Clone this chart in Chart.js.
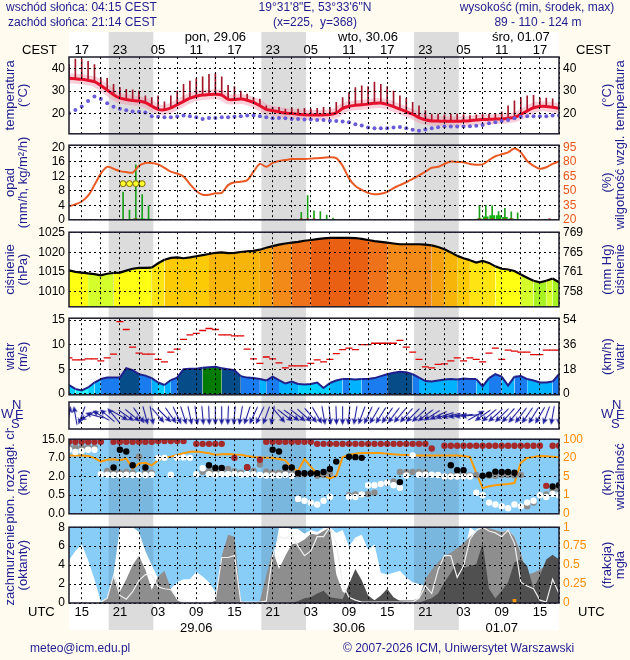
<!DOCTYPE html>
<html lang="pl">
<head>
<meta charset="UTF-8">
<title>Meteogram ICM</title>
<script src="https://cdn.jsdelivr.net/npm/chart.js@4.4.1/dist/chart.umd.min.js"></script>
<style>
  body { margin: 0; background: #fffbef; }
  #page { position: relative; width: 630px; height: 660px; overflow: hidden; font-family: "Liberation Sans", Arial, sans-serif; }
  canvas { position: absolute; left: 0; }
  .t { position: absolute; white-space: nowrap; font-size: 12px; line-height: 14px; color: #1d1d8f; }
  .c { transform: translateX(-50%); }
  .k { color: #000; font-size: 13px; }
  .cp { font-size: 13px; }
</style>
</head>
<body>
<div id="page">
  <canvas id="bg" width="630" height="660" style="top:0"></canvas>
  <canvas id="cTemp" width="630" height="123" style="top:22px"></canvas>
  <canvas id="cRain" width="630" height="97" style="top:134px"></canvas>
  <canvas id="cPress" width="630" height="97" style="top:221px"></canvas>
  <canvas id="cWind" width="630" height="99" style="top:307px"></canvas>
  <canvas id="cDir" width="630" height="49" style="top:391px"></canvas>
  <canvas id="cBase" width="630" height="97" style="top:428px"></canvas>
  <canvas id="cCover" width="630" height="117" style="top:516px"></canvas>

  <div class="t" style="left:6px;top:0">wschód słońca: 04:15 CEST</div>
  <div class="t" style="left:8px;top:15px">zachód słońca: 21:14 CEST</div>
  <div class="t c" style="left:315px;top:0">19°31'8"E, 53°33'6"N</div>
  <div class="t c" style="left:315px;top:15px">(x=225,&nbsp; y=368)</div>
  <div class="t c" style="left:537px;top:0">wysokość (min, środek, max)</div>
  <div class="t c" style="left:538px;top:15px">89 - 110 - 124 m</div>

  <div class="t k" style="left:22px;top:43px">CEST</div>
  <div class="t k" style="left:576px;top:43px">CEST</div>
  <div class="t k" style="left:28px;top:605px">UTC</div>
  <div class="t k" style="left:578px;top:605px">UTC</div>

  <div class="t cp" style="left:1px;top:407px">W</div>
  <div class="t cp" style="left:12px;top:398px">N</div>
  <div class="t cp" style="left:15px;top:408px">E</div>
  <div class="t cp" style="left:11px;top:417px">S</div>
  <div class="t cp" style="left:601px;top:407px">W</div>
  <div class="t cp" style="left:612px;top:398px">N</div>
  <div class="t cp" style="left:616px;top:408px">E</div>
  <div class="t cp" style="left:611px;top:417px">S</div>

  <div class="t" style="left:30px;top:641px">meteo@icm.edu.pl</div>
  <div class="t" style="left:343px;top:641px">© 2007-2026 ICM, Uniwersytet Warszawski</div>
</div>

<script>
// time axis: hours UTC counted from 28.06 00 UTC
const X_MIN = 13, X_MAX = 90;
const hrs = Array.from({ length: 78 }, (_, i) => X_MIN + i);
const gridHours = Array.from({ length: 26 }, (_, i) => 15 + 3 * i);
const labelHours = [15, 21, 27, 33, 39, 45, 51, 57, 63, 69, 75, 81, 87];
const cestLabels = ['17', '23', '05', '11', '17', '23', '05', '11', '17', '23', '05', '11', '17'];
const utcLabels = ['15', '21', '03', '09', '15', '21', '03', '09', '15', '21', '03', '09', '15'];
const dayHours = [36, 60, 84];
const dayLabels = ['pon, 29.06', 'wto, 30.06', 'śro, 01.07'];
const dateHours = [33, 57, 81];
const dateLabels = ['29.06', '30.06', '01.07'];

// sunset 21:14 CEST, sunrise 04:15 CEST (in UTC hours)
const nightStart = [19.23, 43.23, 67.23];
const nightEnd = [26.25, 50.25, 74.25];

// temperature (°C)
const tempVals = [35.7, 35.5, 35.3, 34.8, 34.2, 32.5, 30.5, 28.3, 26.8, 26.2, 25.8, 25.5,
  24.8, 23.3, 21.8, 21.6, 22.4, 23.9, 25.4, 26.8, 27.7, 28.2, 28.4, 28.6,
  28.2, 26.3, 26.2, 26.4, 25.9, 24.9, 23.4, 21.8, 21.2, 20.6, 20.1, 19.9,
  19.6, 19.4, 19.3, 19.3, 19.3, 19.5, 20.2, 22.2, 23.2, 23.6, 23.8, 24.2,
  24.5, 24.6, 24.0, 23.0, 21.9, 20.8, 19.6, 18.1, 17.1, 16.6, 16.5, 16.4,
  16.4, 16.4, 16.5, 16.7, 17.0, 17.2, 17.3, 17.4, 17.5, 17.8, 18.2, 19.5,
  21.1, 22.5, 23.1, 23.1, 22.7, 22.2];
const tempMax = [42, 44.4, 44.4, 43.4, 41.9, 36, 35.7, 33, 31.6, 30.8, 30.5, 30,
  27.9, 27.1, 27.9, 25.2, 27.9, 30, 33, 34.5, 35.6, 36.4, 37.5, 37.9,
  36.4, 32.6, 32, 30, 28.6, 27.1, 26.4, 23.4, 22.7, 22.7, 21.9, 22.5,
  21.9, 22.2, 21.9, 22.2, 22.7, 22.7, 24.9, 27.1, 29.3, 31.6, 32.3, 32,
  34, 33, 32, 30, 27.9, 26.7, 24.9, 23.4, 21.2, 19.7, 19.7, 19.3,
  19.7, 19.7, 19.4, 19, 19.3, 19.7, 19.7, 20, 20.7, 23.4, 25.6, 27.1,
  27.9, 28.1, 26.8, 26.8, 26.5, 25];
const dewVals = [20.0, 21.5, 23.1, 25.5, 27.5, 26.4, 24.5, 23.0, 22.0, 21.4, 20.8, 20.7,
  20.4, 18.7, 18.5, 18.2, 18.2, 18.6, 19.0, 18.7, 18.2, 17.5, 17.9, 17.9,
  18.2, 18.2, 18.5, 18.7, 19.0, 19.0, 18.7, 18.2, 17.8, 17.9, 17.8, 17.5,
  17.5, 17.2, 17.2, 17.0, 17.0, 16.7, 16.5, 16.3, 16.0, 15.1, 14.5, 13.6,
  13.3, 13.3, 13.3, 13.6, 13.9, 13.3, 12.6, 12.2, 12.7, 13.3, 13.7, 14.1,
  14.1, 14.1, 14.1, 14.2, 14.4, 14.8, 15.5, 16.0, 16.5, 17.0, 17.8, 18.5,
  18.7, 18.7, 18.7, 18.7, 19.0, 19.0];

// precipitation (mm/h) and relative humidity (%)
const rhVals = [34, 36, 39, 45, 56, 68, 75, 73, 70.5, 69.5, 69, 76,
  79, 79, 77.5, 74, 70, 68, 65, 57, 50, 46, 46, 47.5,
  48, 56, 59, 59.5, 61, 70, 78, 75, 79, 81, 82, 83,
  83.2, 83.2, 83.5, 84, 84.5, 85, 84, 76, 63, 55, 51, 48,
  46.5, 47, 49, 53, 56, 59, 62.5, 66, 70, 74, 75, 78,
  80.5, 80, 79.8, 78, 77.2, 77.5, 82, 86, 88, 90, 94, 90,
  81, 76, 73, 74.5, 78, 80.5];
const rainHours = [21.5, 22.5, 23.5, 24.5, 25.5, 49.5, 50.5, 51.5, 52.5, 53.5, 54.5, 77.5, 78.5, 79.5, 80.5, 81.5, 82.5, 83.5];
const rainMax = [7.7, 2.7, 15.2, 7.0, 3.9, 2.1, 6.7, 2.5, 2.3, 1.3, 0.5, 4.0, 4.0, 3.9, 2.3, 3.2, 2.2, 1.9];
const rainMean = [0, 0, 0.3, 0.3, 0.2, 0, 0, 0, 0, 0, 0, 0.3, 0.8, 1.2, 1.2, 0.7, 0.3, 0];
const stormHours = [21.5, 22.5, 23.5, 24.5];
const redDotHours = [23.5, 49.5, 50.5, 51.5, 77.5, 78.5, 79.5, 81.5, 82.5, 88.5];

// pressure (hPa)
const pressVals = [1015.4, 1015.0, 1014.8, 1014.6, 1014.4, 1014.1, 1014.5, 1014.7, 1014.8, 1015.3, 1015.8, 1016.0,
  1016.0, 1016.1, 1017.2, 1018.1, 1018.6, 1018.7, 1018.5, 1018.7, 1019.0, 1019.3, 1019.6, 1019.9,
  1020.0, 1019.8, 1019.9, 1020.1, 1020.3, 1020.4, 1020.7, 1021.2, 1021.6, 1022.0, 1022.3, 1022.5,
  1022.7, 1023.0, 1023.2, 1023.4, 1023.6, 1023.75, 1023.75, 1023.75, 1023.75, 1023.7, 1023.5, 1023.2,
  1022.9, 1022.7, 1022.5, 1022.3, 1022.1, 1022.1, 1022.1, 1022.1, 1022.0, 1021.8, 1021.4, 1020.8,
  1020.0, 1019.1, 1018.5, 1018.0, 1017.4, 1017.8, 1017.3, 1016.4, 1015.8, 1015.6, 1015.2, 1014.3,
  1013.5, 1012.7, 1012.3, 1012.7, 1013.3, 1012.3];

// wind (m/s), gusts (m/s), direction (arrow heading, degrees)
const windVals = [1.8, 1.0, 0.7, 1.3, 2.3, 3.0, 3.3, 3.3, 3.3, 5.2, 4.8, 4.0,
  3.7, 3.2, 2.3, 1.8, 2.8, 3.3, 5.0, 5.1, 5.1, 5.3, 5.4, 5.5,
  5.2, 5.0, 4.8, 3.6, 3.3, 3.2, 3.0, 2.7, 3.5, 2.8, 2.1, 2.5,
  2.0, 1.9, 2.0, 2.3, 1.2, 2.2, 2.7, 3.0, 3.0, 2.9, 3.0, 3.0,
  3.2, 3.6, 4.0, 4.3, 4.5, 4.4, 4.0, 3.3, 2.6, 2.5, 2.7, 2.9,
  3.0, 2.9, 3.1, 3.0, 3.0, 1.5, 3.2, 4.0, 3.5, 1.7, 3.5, 3.6,
  3.0, 2.7, 2.3, 2.3, 2.5, 4.0];
const gustVals = [7.3, 6.9, 6.9, 7.1, 7.1, 6.7, 7.3, 8.1, 14.7, 13.1, 9.5, 8.3,
  8.1, 8.1, 7.0, 6.5, 8.5, 9.1, 11.1, 12.0, 12.3, 12.9, 13.3, 13.1,
  12.0, 12.0, 11.8, 11.8, 9.1, 7.1, 6.2, 7.5, 7.1, 6.3, 5.3, 5.7,
  5.7, 5.7, 6.2, 6.9, 6.5, 7.0, 8.2, 9.0, 9.3, 9.0, 10.0, 10.0,
  10.3, 10.3, 10.3, 10.3, 10.9, 9.5, 8.5, 7.0, 5.5, 5.3, 6.0, 6.1,
  6.7, 7.3, 6.7, 7.3, 7.0, 6.5, 8.3, 9.3, 7.0, 8.9, 8.7, 8.5,
  8.5, 8.0, 8.0, 8.9, 8.9, 8.9];
const windDir = [10, 350, 200, 240, 285, 300, 310, 320, 120, 125, 130, 145,
  165, 170, 140, 135, 145, 155, 162, 168, 172, 175, 178, 180,
  180, 182, 185, 190, 198, 205, 205, 200, 190, 140, 128, 125,
  128, 132, 140, 150, 170, 175, 178, 180, 185, 190, 200, 205,
  210, 212, 215, 217, 220, 222, 225, 228, 233, 238, 245, 252,
  257, 260, 263, 265, 60, 235, 230, 228, 225, 222, 220, 217,
  215, 212, 210, 200, 190, 180];

// cloud base / vertical extent (km) and visibility (km)
const baseTicks = [0, 0.5, 2, 7, 15];
const visTicks = [0, 1, 5, 20, 100];
const cbRed = [13.9, 13.9, 13.9, 13.9, 13.9, 13.9, null, 13.9, 13.9, 13.9, 13.9, 13.9,
  13.9, 13.9, 14.2, 14.2, 14.2, 14.2, 14.2, null, 13.0, 13.0, 13.0, 13.0,
  13.0, null, 7.0, null, 4.5, null, 6.5, 13.9, 13.9, 13.9, 13.9, 13.9,
  13.9, 13.9, 13.9, 13.0, 13.0, 13.0, 13.0, 13.0, 13.0, 13.0, 13.0, 13.0,
  13.0, 13.0, 13.0, 13.0, 13.0, 13.0, 13.0, 13.0, 13.0, 11.0, null, 12.2,
  12.2, 12.2, 12.2, 12.2, 12.2, 12.2, 12.2, 12.2, 12.2, 12.2, 12.2, 12.2,
  12.2, 12.2, 12.2, 1.25, 12.2, 12.2];
const cbBlack = [null, null, null, null, null, null, null, 4.4, 10.5, 9.7, 5.0, null,
  4.4, null, null, null, null, null, null, null, null, null, 5.0, 4.3,
  4.3, null, null, null, 4.4, null, null, null, 10.5, 9.7, 4.4, 4.4,
  2.9, 2.9, 2.9, 2.9, 3.2, 4.0, 6.0, null, 7.5, 7.3, 7.0, null,
  null, null, null, null, 1.55, null, null, null, null, null, null, null,
  5.0, 3.7, 3.7, null, null, 2.2, 2.5, 3.3, 3.2, 3.2, 3.0, null,
  null, null, null, null, 1.2, 1.3];
const cbGray = [11.5, 11.5, 11.5, 11.5, 11.5, null, 3.5, 3.5, 3.0, 3.2, 3.0, 7.6,
  3.2, 3.0, null, null, null, null, null, null, null, 3.3, 3.4, 3.2,
  3.4, 4.0, 3.4, 3.0, null, 3.5, 5.2, 3.3, 3.0, 3.0, 3.3, 3.4,
  2.6, 2.6, null, 2.2, 2.4, 2.8, null, null, 0.5, 0.55, 0.55, 0.6,
  0.7, 1.4, 1.5, 1.6, 3.2, 3.2, 3.2, 3.2, 3.1, null, null, 2.0,
  2.2, 2.4, 2.6, 2.3, 2.4, null, 2.2, 2.2, 2.4, 2.4, 2.3, 2.4,
  0.2, 0.3, 0.5, 0.56, 0.9, 1.0];
const cbWhite = [10.5, 9.5, 10.0, 10.5, 10.5, 2.6, 2.5, 2.4, 2.4, 2.5, 2.4, 2.4,
  2.4, 2.5, 7.0, 7.0, 2.5, 7.0, 7.2, 7.0, 2.6, 4.2, 2.6, 2.5,
  2.6, 2.6, 2.7, 2.5, 2.6, 2.6, 2.4, 2.3, 2.3, 2.3, 2.5, 2.2,
  0.4, 0.35, 0.3, 0.25, 0.35, 0.45, null, null, 0.45, 0.45, 0.55, 1.3,
  1.3, 1.4, 1.5, 1.3, 1.1, 2.3, 8.0, 2.5, 2.5, 2.5, 2.4, 2.0,
  2.0, 2.0, 2.0, 2.0, 0.7, 0.5, 0.3, 0.25, 0.2, 0.15, 0.25, 0.2,
  0.3, 0.35, 0.5, 0.45, 0.6, 0.5];
const visVals = [30, 30, 30, 28, 20, 17, 18.5, 18.8, 18, 19.4, 11.5, 15.5,
  16, 14, 18, 21, 25, 32, 40, 46, 47, 44, 40, 33,
  35, 36, 34, 33, 28, 24, 22, 20.5, 20, 19, 18, 12,
  9.5, 19, 13, 7, 5.5, 4.6, 5.5, 23, 33, 38, 41, 41,
  41, 41, 38, 35, 33, 32, 31, 30, 30, 30, 30, 30,
  30, 30, 28, 24, 8, 2.5, 2.9, 3.1, 3.3, 3.4, 3.6, 16,
  20, 24, 28, 27, 25, 23];

// cloud cover (octas) and fog fraction
const coverHigh = [4.5, 5.5, 6.2, 4.5, 2.5, 0.1, 0, 3.0, 8, 8, 8, 7.5,
  5.5, 4.0, 2.6, 1.3, 1.5, 2.2, 2.5, 2.5, 3.3, 2.8, 2.2, 1.2,
  0, 0, 0, 0, 0, 0, 0, 0, 4, 8, 8, 7.8,
  7.8, 7.3, 7.7, 7.5, 7.9, 8, 7.4, 7.7, 6.0, 6.9, 7.2, 5.6,
  6.2, 3.2, 3.0, 3.2, 3.4, 2.7, 2.2, 2.0, 1.8, 1.2, 0.5, 0,
  0, 0, 5, 8, 7.5, 8, 7.7, 7.7, 7.5, 7.7, 7.0, 5.3,
  3.0, 2.5, 1.8, 0.1, 0, 0];
const coverMid = [0, 0, 0, 0, 0, 0.1, 0.6, 3.0, 1.2, 2.5, 4.0, 5.0,
  3.5, 1.4, 2.8, 3.4, 1.5, 0.3, 0, 0, 0, 0, 0, 0.3,
  5.0, 7.2, 7.0, 0.2, 0, 0, 0.2, 2.9, 5.6, 3.6, 5.0, 6.2,
  6.3, 6.7, 7.3, 7.2, 7.6, 8, 3.0, 1.2, 0.8, 0.6, 0.5, 0.4,
  0.3, 0.3, 0.3, 0.3, 0.3, 0.3, 0.3, 0.5, 2.5, 3.5, 4.3, 5.0,
  5.3, 5.8, 6.3, 7.0, 7.5, 8, 7.9, 7.7, 7.5, 7.7, 7.0, 5.3,
  3.0, 3.2, 3.5, 4.0, 4.5, 4.8];
const coverLow = [0, 0, 0, 0, 0, 0, 0, 0, 0, 0, 0, 0,
  0, 0, 0, 0, 0, 0, 0, 0, 0, 0, 0, 0,
  0, 0, 0, 0, 0, 0, 0, 0, 0, 0, 0, 0,
  0.2, 0.5, 0.6, 1.0, 1.3, 0.6, 0.5, 0.4, 2.0, 3.6, 2.4, 0.8,
  0.3, 0.8, 1.5, 0.6, 0.2, 0.1, 0, 0, 0.3, 0.5, 1.0, 2.2,
  3.2, 4.3, 3.7, 3.9, 4.1, 6.3, 1.5, 0.5, 1.3, 2.2, 4.3, 4.6,
  3.9, 1.5, 2.9, 4.6, 5.1, 4.6];
const coverTotal = [0, 0, 0, 0, 0, 0.1, 0.5, 2.9, 0.8, 0.4, 1.2, 2.4,
  3.0, 3.0, 1.7, 1.5, 1.4, 0.5, 0.2, 0.1, 0.1, 0.1, 0.1, 0.3,
  4.8, 4.8, 5.0, 0.1, 0.1, 0.1, 0.1, 0.2, 5.0, 7.0, 6.8, 7.2,
  6.0, 5.0, 5.5, 7.0, 7.0, 8.0, 6.3, 2.0, 0.6, 0.3, 0.1, 0.1,
  0.1, 0.1, 0.1, 0.1, 0.1, 0.1, 0.1, 0.5, 1.8, 1.0, 3.5, 5.0,
  5.0, 2.7, 3.9, 6.7, 7.7, 8.0, 7.6, 7.4, 7.0, 7.7, 6.3, 2.2,
  1.8, 1.5, 0.3, 0.1, 2.5, 1.0];
const fogHours = [83];
const fogVals = [0.05];

// ---------------------------------------------------------------
const NAVY = '#1d1d8f';
const FONT = '"Liberation Sans", Arial, sans-serif';
Chart.defaults.font.family = FONT;
Chart.defaults.font.size = 12;
Chart.defaults.color = '#000';

const pts = (xs, ys) => xs.map((x, i) => ({ x: x, y: ys[i] }));

// piecewise position on the equally spaced ticks of the cloud panel
function toIdx(v, ticks) {
  if (v == null) return null;
  for (let i = 1; i < ticks.length; i++) {
    if (v <= ticks[i]) return i - 1 + (v - ticks[i - 1]) / (ticks[i] - ticks[i - 1]);
  }
  return ticks.length - 1;
}

function pressColor(p) {
  if (p < 1013) return '#a6f222';
  if (p < 1014.7) return '#d4ff2a';
  if (p < 1016.5) return '#ffff14';
  if (p < 1018) return '#ffe414';
  if (p < 1019.5) return '#fccb06';
  if (p < 1020.6) return '#f6b508';
  if (p < 1021.6) return '#f5a00e';
  if (p < 1022.6) return '#f28a1a';
  if (p < 1023.3) return '#ee721a';
  return '#ea6012';
}
function windColor(w) {
  if (w < 1.3) return '#28f4ff';
  if (w < 2.2) return '#00d2ff';
  if (w < 3.0) return '#00b2ff';
  if (w < 4.0) return '#1a7cee';
  if (w < 5.25) return '#064c88';
  return '#047c04';
}

// plugins ---------------------------------------------------------
const bands = {
  id: 'bands',
  beforeDraw(chart, args, o) {
    if (!o.band) return;
    const { ctx, chartArea: a } = chart;
    const x = chart.scales.x;
    ctx.save();
    if (o.fill) { ctx.fillStyle = o.fill; ctx.fillRect(a.left, a.top, a.width, a.height); }
    ctx.beginPath(); ctx.rect(a.left, a.top, a.width, a.height); ctx.clip();
    ctx.fillStyle = o.band;
    nightStart.forEach((s, i) => {
      const x0 = x.getPixelForValue(s), x1 = x.getPixelForValue(nightEnd[i]);
      ctx.fillRect(x0, a.top, x1 - x0, a.height);
    });
    ctx.restore();
  }
};
const frame = {
  id: 'frame',
  afterDraw(chart, args, o) {
    if (!o.color) return;
    const { ctx, chartArea: a } = chart;
    ctx.save();
    ctx.strokeStyle = o.color; ctx.lineWidth = 1.5;
    ctx.strokeRect(a.left, a.top, a.width, a.height);
    ctx.restore();
  }
};
const sideTitles = {
  id: 'sideTitles',
  afterDraw(chart, args, o) {
    if (!o.items) return;
    const { ctx, chartArea: a } = chart;
    ctx.save();
    ctx.font = '13px ' + FONT;
    ctx.fillStyle = NAVY;
    ctx.textBaseline = 'middle';
    o.items.forEach(t => {
      ctx.save();
      ctx.translate(t.x, (a.top + a.bottom) / 2 + (t.dy || 0));
      ctx.rotate(-Math.PI / 2);
      ctx.textAlign = t.align || 'center';
      ctx.fillText(t.text, 0, 0);
      ctx.restore();
    });
    ctx.restore();
  }
};
Chart.register(bands, frame, sideTitles);

// local time row and day names above the temperature panel
const topLabels = {
  id: 'topLabels',
  afterDraw(chart) {
    const { ctx, chartArea: a } = chart;
    const x = chart.scales.x;
    ctx.save();
    ctx.font = '13px ' + FONT;
    ctx.fillStyle = '#000';
    ctx.textAlign = 'center';
    ctx.textBaseline = 'middle';
    labelHours.forEach((h, i) => ctx.fillText(cestLabels[i], x.getPixelForValue(h), a.top - 7));
    dayHours.forEach((h, i) => ctx.fillText(dayLabels[i], x.getPixelForValue(h), a.top - 20));
    ctx.restore();
  }
};

// scale helpers ----------------------------------------------------
function xGrid() {
  return {
    type: 'linear', min: X_MIN, max: X_MAX, offset: false,
    grid: { color: '#000', lineWidth: 1, z: 1, drawTicks: false, offset: false },
    border: { display: false, dash: [2, 3] },
    ticks: { display: false },
    afterBuildTicks: s => { s.ticks = gridHours.map(v => ({ value: v })); },
    afterFit: s => { s.height = 0; }
  };
}
function yLeft(min, max, vals, fmt) {
  return {
    position: 'left', min: min, max: max,
    grid: { color: '#000', lineWidth: 1, z: 1, drawTicks: false },
    border: { display: false, dash: [2, 3] },
    ticks: { autoSkip: false, padding: 4, font: { size: 12 }, callback: fmt || (v => String(v)) },
    afterBuildTicks: s => { s.ticks = vals.map(v => ({ value: v })); },
    afterFit: s => { s.width = 69; }
  };
}
function yRight(min, max, vals, fmt, color) {
  return {
    position: 'right', min: min, max: max,
    grid: { display: false, drawTicks: false },
    border: { display: false },
    ticks: { autoSkip: false, padding: 4, font: { size: 12 }, color: color || '#000', callback: fmt || (v => String(v)) },
    afterBuildTicks: s => { s.ticks = vals.map(v => ({ value: v })); },
    afterFit: s => { s.width = 71; }
  };
}
function opts(scales, plugins, padding) {
  return {
    responsive: false, animation: false, events: [],
    layout: { padding: padding || { top: 10, bottom: 10, left: 0, right: 0 } },
    scales: scales,
    plugins: Object.assign({ legend: { display: false }, tooltip: { enabled: false } }, plugins)
  };
}
function titles(l1, l2, r1, r2, extra) {
  const items = [
    { text: l1, x: 10 }, { text: l2, x: 23 },
    { text: r1, x: 607 }, { text: r2, x: 620 }
  ];
  (extra || []).forEach((e, i) => Object.assign(items[i], e));
  return { items: items };
}

// background column with night bands
new Chart(document.getElementById('bg'), {
  type: 'line',
  data: { datasets: [] },
  options: opts({
    x: { type: 'linear', min: X_MIN, max: X_MAX, display: false },
    y: { display: false }
  }, { bands: { fill: '#ffffff', band: '#dcdcdc' } }, { left: 69, right: 71, top: 32, bottom: 30 })
});

// temperature
new Chart(document.getElementById('cTemp'), {
  type: 'line',
  data: {
    datasets: [
      { data: pts(hrs, dewVals), showLine: false, pointRadius: 2, pointBackgroundColor: '#6a5cd8', pointBorderWidth: 0, order: 0 },
      { data: pts(hrs, tempVals), borderColor: '#e4102c', borderWidth: 3, pointRadius: 0, tension: 0.3, order: 1 },
      { type: 'bar', data: hrs.map((h, i) => ({ x: h, y: [tempVals[i], tempMax[i]] })), backgroundColor: '#a3162a', barThickness: 1, order: 2 },
      { data: pts(hrs, tempVals), borderColor: 'rgba(240,150,172,0.45)', borderWidth: 10, pointRadius: 0, tension: 0.3, order: 3 }
    ]
  },
  options: opts({
    x: xGrid(),
    y: yLeft(10.8, 45.3, [20, 30, 40]),
    y2: yRight(10.8, 45.3, [20, 30, 40])
  }, {
    frame: { color: '#1c1c2c' },
    sideTitles: titles('temperatura', '(°C)', '(°C)', 'temperatura')
  }, { top: 35, bottom: 10, left: 0, right: 0 }),
  plugins: [topLabels]
});

// precipitation + humidity
const RAIN_MAX = 20.65;
new Chart(document.getElementById('cRain'), {
  type: 'line',
  data: {
    datasets: [
      { data: stormHours.map(h => ({ x: h, y: 10 })), showLine: false, pointRadius: 3, pointBackgroundColor: '#ffff30', pointBorderColor: '#7a6a00', pointBorderWidth: 1, order: 0 },
      { data: redDotHours.map(h => ({ x: h, y: 0 })), showLine: false, pointStyle: 'rect', pointRadius: 2, pointBackgroundColor: '#c81818', pointBorderWidth: 0, order: 0 },
      { yAxisID: 'y2', data: pts(hrs, rhVals), borderColor: '#ea5a24', borderWidth: 2, pointRadius: 0, tension: 0.3, order: 1 },
      { type: 'bar', data: pts(rainHours, rainMean), backgroundColor: '#14b414', barThickness: 5, grouped: false, order: 2 },
      { type: 'bar', data: pts(rainHours, rainMax), backgroundColor: '#1aa01a', barThickness: 1, grouped: false, order: 3 }
    ]
  },
  options: opts({
    x: xGrid(),
    y: yLeft(0, RAIN_MAX, [0, 4, 8, 12, 16, 20]),
    y2: yRight(20, 20 + RAIN_MAX * 3.75, [20, 35, 50, 65, 80, 95], null, '#e8561e')
  }, {
    frame: { color: '#1c1c2c' },
    sideTitles: titles('opad', '(mm/h, kg/m²/h)', '(%)', 'wilgotność wzgl.')
  })
});

// pressure
new Chart(document.getElementById('cPress'), {
  type: 'line',
  data: {
    datasets: [{
      data: pts(hrs, pressVals), borderColor: '#000', borderWidth: 2.2, pointRadius: 0, tension: 0,
      fill: 'start', backgroundColor: '#fccb06',
      segment: { backgroundColor: c => pressColor((c.p0.parsed.y + c.p1.parsed.y) / 2) }
    }]
  },
  options: opts({
    x: xGrid(),
    y: yLeft(1006, 1025.2, [1010, 1015, 1020, 1025]),
    y2: yRight(1006, 1025.2, [1010, 1015, 1020, 1025], v => String(Math.round(v * 0.750062)))
  }, {
    frame: { color: '#1c1c2c' },
    sideTitles: titles('ciśnienie', '(hPa)', '(mm Hg)', 'ciśnienie')
  })
});

// wind
new Chart(document.getElementById('cWind'), {
  type: 'line',
  data: {
    datasets: [
      { data: pts(hrs, gustVals), showLine: false, pointStyle: 'line', pointRadius: 3.5, pointBorderColor: '#e00000', pointBorderWidth: 1.3, order: 0 },
      {
        data: pts(hrs, windVals), borderColor: '#20208c', borderWidth: 2, pointRadius: 0, tension: 0,
        fill: 'start', backgroundColor: '#00b2ff',
        segment: { backgroundColor: c => windColor((c.p0.parsed.y + c.p1.parsed.y) / 2) }, order: 1
      }
    ]
  },
  options: opts({
    x: xGrid(),
    y: yLeft(-0.2, 15.4, [0, 5, 10, 15]),
    y2: yRight(-0.2, 15.4, [0, 5, 10, 15], v => String(Math.round(v * 3.6)))
  }, {
    frame: { color: '#1c1c2c' },
    sideTitles: titles('wiatr', '(m/s)', '(km/h)', 'wiatr')
  })
});

// wind direction arrows
function makeArrow() {
  const c = document.createElement('canvas');
  c.width = 9; c.height = 20;
  const g = c.getContext('2d');
  g.strokeStyle = g.fillStyle = '#1c1c9c';
  g.lineWidth = 1.1;
  g.beginPath(); g.moveTo(4.5, 19.5); g.lineTo(4.5, 5); g.stroke();
  g.beginPath(); g.moveTo(4.5, 0.5); g.lineTo(1.5, 7); g.lineTo(4.5, 5.5); g.lineTo(7.5, 7); g.closePath(); g.fill();
  return c;
}
const arrow = makeArrow();
new Chart(document.getElementById('cDir'), {
  type: 'line',
  data: {
    datasets: [{
      data: hrs.map(h => ({ x: h, y: 0.5 })), showLine: false,
      pointStyle: arrow, pointRadius: 10, pointRotation: c => windDir[c.dataIndex]
    }]
  },
  options: opts({
    x: xGrid(),
    y: { display: false, min: 0, max: 1 }
  }, { frame: { color: '#1c1c2c' } }, { top: 10, bottom: 10, left: 69, right: 71 })
});

// cloud base / visibility
const dots = (arr, color, order) => ({
  data: pts(hrs, arr.map(v => toIdx(v, baseTicks))), showLine: false,
  pointRadius: 3.2, pointBackgroundColor: color, pointBorderWidth: 0, order: order
});
new Chart(document.getElementById('cBase'), {
  type: 'line',
  data: {
    datasets: [
      dots(cbRed, '#a62a2a', 0),
      dots(cbBlack, '#000000', 1),
      dots(cbWhite, '#ffffff', 2),
      dots(cbGray, '#8c8c8c', 3),
      { data: pts(hrs, visVals.map(v => toIdx(v, visTicks))), borderColor: '#ff9a00', borderWidth: 2, pointRadius: 0, tension: 0, order: 4 }
    ]
  },
  options: opts({
    x: xGrid(),
    y: yLeft(0, 4, [0, 1, 2, 3, 4], v => baseTicks[v].toFixed(1)),
    y2: yRight(0, 4, [0, 1, 2, 3, 4], v => String(visTicks[v]), '#ff8c00')
  }, {
    bands: { fill: '#88ccf8', band: 'rgba(0,0,0,0.1)' },
    frame: { color: '#1c1c2c' },
    sideTitles: titles('pion. rozciągł. chm.', '(km)', '(km)', 'widzialność',
      [{ dy: 47, align: 'left' }, { dy: 6 }, { dy: 6 }, {}])
  })
});

// cloud cover / fog
const area = (arr, color, order) => ({
  data: pts(hrs, arr), fill: 'start', backgroundColor: color, borderWidth: 0, pointRadius: 0, tension: 0, order: order
});
function utcTick(v) {
  const i = labelHours.indexOf(v);
  if (i < 0) return '';
  const d = dateHours.indexOf(v);
  return d < 0 ? utcLabels[i] : [utcLabels[i], dateLabels[d]];
}
new Chart(document.getElementById('cCover'), {
  type: 'line',
  data: {
    datasets: [
      { type: 'bar', yAxisID: 'y2', data: pts(fogHours, fogVals), backgroundColor: '#ff9900', barThickness: 3, order: 0 },
      { data: pts(hrs, coverTotal), borderColor: '#eeeeee', borderWidth: 1.2, pointRadius: 0, tension: 0, fill: false, order: 1 },
      area(coverLow, '#505050', 2),
      area(coverMid, '#8e8e8e', 3),
      area(coverHigh, '#ffffff', 4)
    ]
  },
  options: opts({
    x: {
      type: 'linear', position: 'bottom', min: X_MIN, max: X_MAX, offset: false,
      grid: { color: '#000', lineWidth: 1, z: 1, drawTicks: false, offset: false },
      border: { display: false, dash: [2, 3] },
      ticks: { autoSkip: false, maxRotation: 0, padding: 2, font: { size: 13 }, color: '#000', callback: v => utcTick(v) },
      afterBuildTicks: s => { s.ticks = gridHours.map(v => ({ value: v })); },
      afterFit: s => { s.height = 30; }
    },
    y: yLeft(0, 8, [0, 2, 4, 6, 8]),
    y2: yRight(0, 1, [0, 0.25, 0.5, 0.75, 1], null, '#ff8c00')
  }, {
    bands: { fill: '#88ccf8', band: 'rgba(0,0,0,0.1)' },
    frame: { color: '#1c1c2c' },
    sideTitles: titles('zachmurzenie', '(oktanty)', '(frakcja)', 'mgła')
  }, { top: 10, bottom: 0, left: 0, right: 0 })
});
</script>
</body>
</html>
